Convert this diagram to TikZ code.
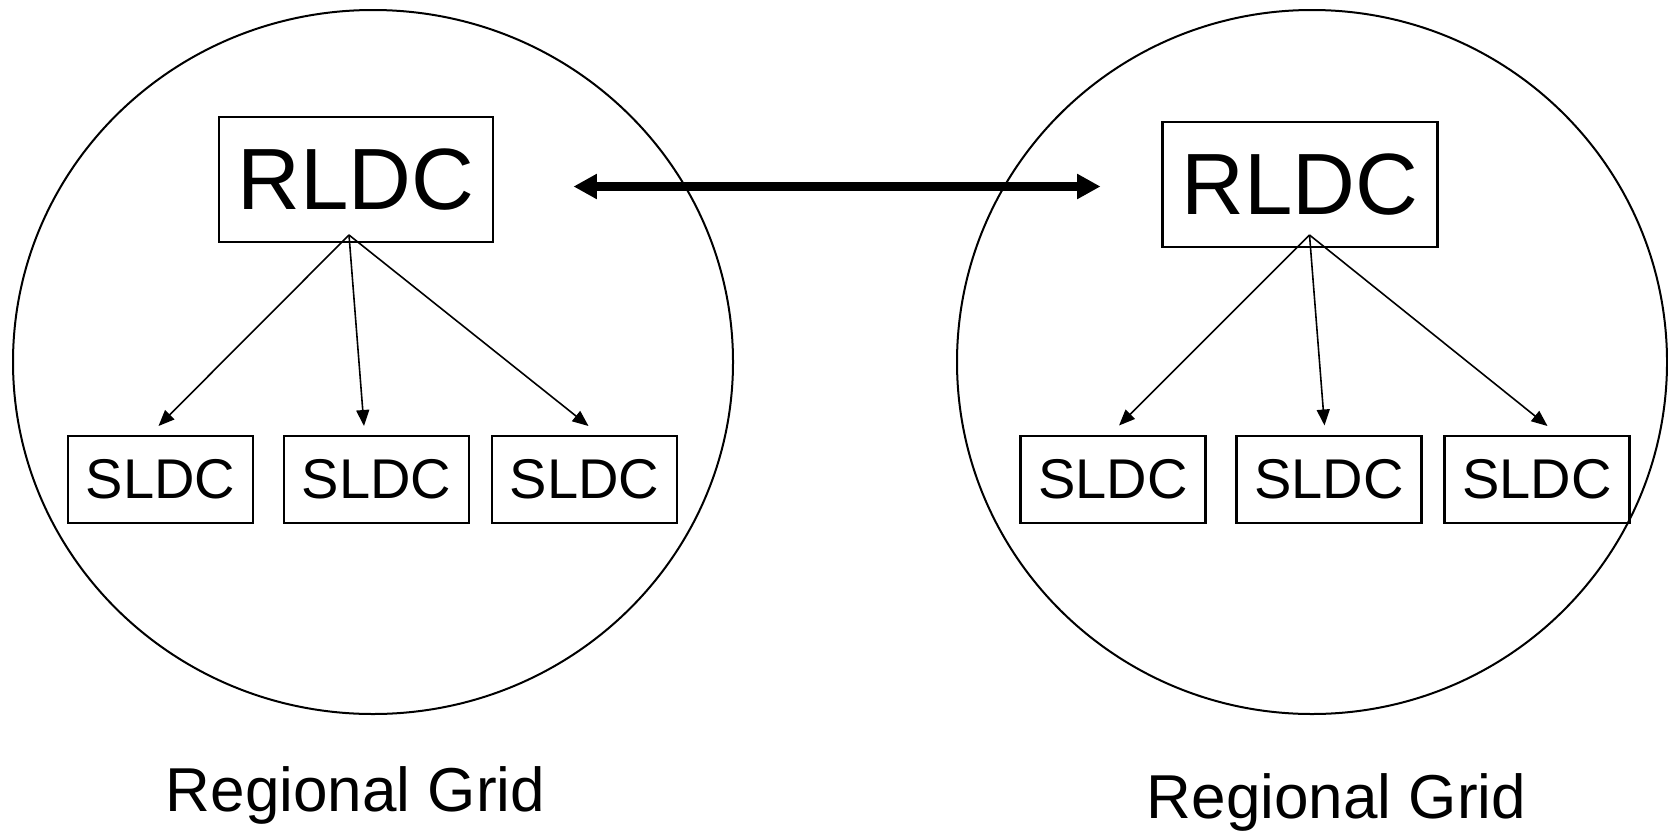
\documentclass[tikz,border=0pt]{standalone}
\usepackage{fontspec}
\setmainfont{Liberation Sans}
\usetikzlibrary{arrows.meta,shapes.geometric}

\tikzset{
  gridshape/.style={draw, ellipse, line width=1pt, inner sep=0pt},
  rbox/.style={draw, line width=1.2pt, inner sep=0pt, minimum width=137pt,
    minimum height=62.5pt, font=\fontsize{43.5pt}{50pt}\selectfont},
  sbox/.style={draw, line width=1.2pt, inner sep=0pt, minimum width=92.5pt,
    minimum height=43.5pt, font=\fontsize{28pt}{32pt}\selectfont},
  gridlabel/.style={anchor=base, inner sep=0pt, font=\fontsize{31pt}{36pt}\selectfont},
  feed/.style={line width=0.8pt, -{Triangle[length=8pt,width=6.5pt]}},
  tie/.style={line width=4.2pt, {Triangle[length=11.7pt,width=11.9pt]}-{Triangle[length=11.7pt,width=11.9pt]}},
}

\begin{document}
\begin{tikzpicture}[x=0.5pt, y=-0.5pt]
  \useasboundingbox (0,0) rectangle (1668,830);

  % the two regional grids
  \node[gridshape, minimum width=360pt, minimum height=352pt] (g1) at (373,362) {};
  \node[gridshape, minimum width=355pt, minimum height=352pt] (g2) at (1312,362) {};

  % left grid
  \node[rbox] (r1) at (356,179.5) {RLDC};
  \node[sbox] (s11) at (160.5,479.5) {SLDC};
  \node[sbox] (s12) at (376.5,479.5) {SLDC};
  \node[sbox] (s13) at (584.5,479.5) {SLDC};

  % right grid
  \node[rbox, minimum width=137.5pt] (r2) at (1300,184.5) {RLDC};
  \node[sbox] (s21) at (1113,479.5) {SLDC};
  \node[sbox] (s22) at (1329,479.5) {SLDC};
  \node[sbox] (s23) at (1537,479.5) {SLDC};

  % feed points
  \coordinate (o1) at (349,235);
  \coordinate (t11) at (158.5,426);
  \coordinate (t12) at (364,426);
  \coordinate (t13) at (588.5,426);
  \coordinate (o2) at (1309.5,235);
  \coordinate (t21) at (1119,425.5);
  \coordinate (t22) at (1324.5,425.5);
  \coordinate (t23) at (1547.5,426);

  \draw[feed] (o1) -- (t11);
  \draw[feed] (o1) -- (t12);
  \draw[feed] (o1) -- (t13);
  \draw[feed] (o2) -- (t21);
  \draw[feed] (o2) -- (t22);
  \draw[feed] (o2) -- (t23);

  % inter-regional link
  \coordinate (la) at (573.5,186.5);
  \coordinate (ra) at (1100.5,186.5);
  \draw[tie] (la) -- (ra);

  % labels
  \node[gridlabel] (l1) at (355.5,811) {Regional Grid};
  \node[gridlabel] (l2) at (1336.5,818) {Regional Grid};
\end{tikzpicture}
\end{document}
